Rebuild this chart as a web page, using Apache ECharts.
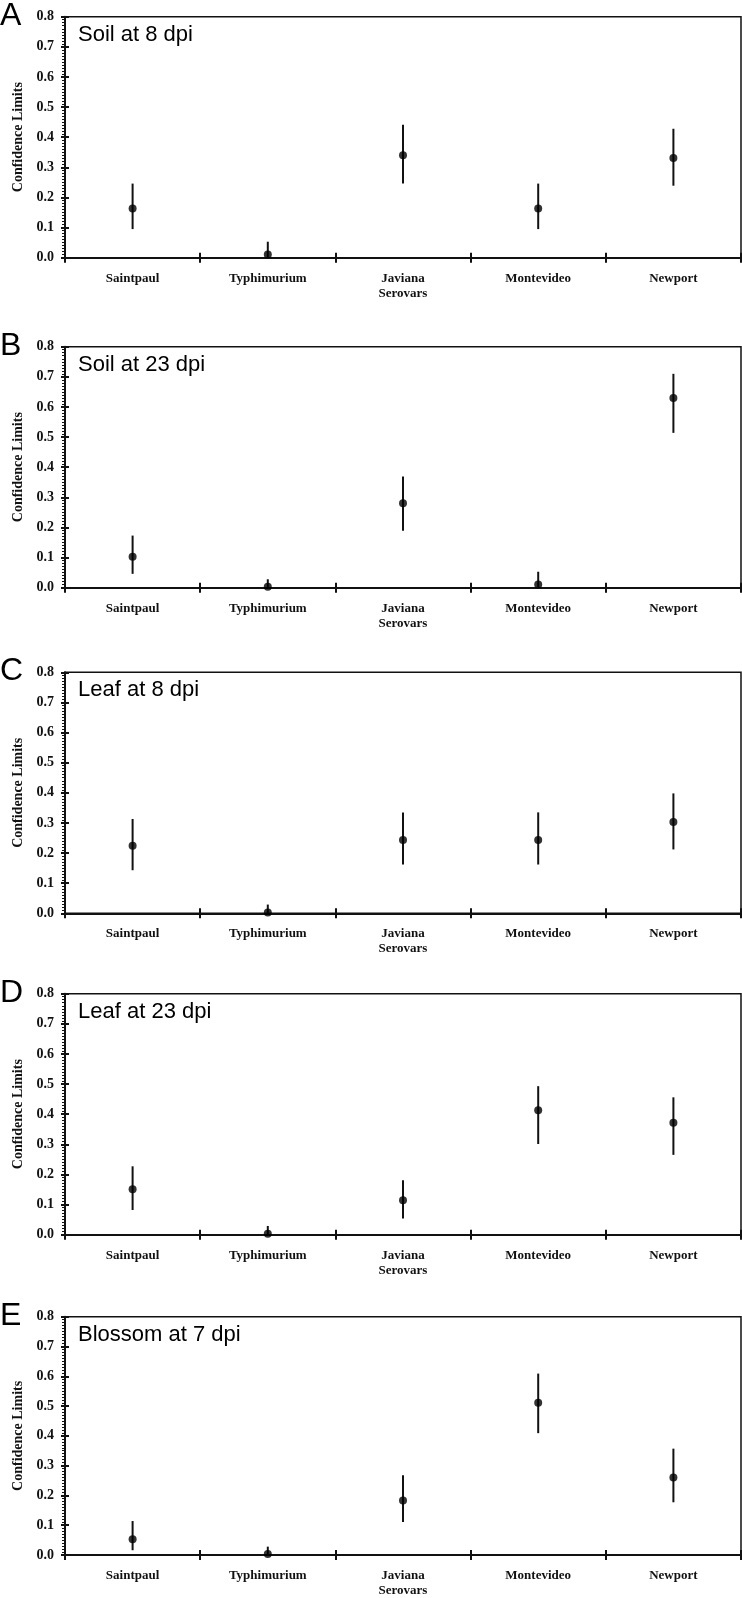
<!DOCTYPE html>
<html>
<head>
<meta charset="utf-8">
<style>
html,body{margin:0;padding:0;background:#fff;}
#chart{width:742px;height:1598px;}
</style>
<script src="https://cdn.jsdelivr.net/npm/echarts@6.0.0/dist/echarts.min.js"></script>
</head>
<body>
<div id="chart"></div>
<script>
// ---- data ----
const categories = ['Saintpaul', 'Typhimurium', 'Javiana', 'Montevideo', 'Newport'];
const yTickLabels = ['0.0', '0.1', '0.2', '0.3', '0.4', '0.5', '0.6', '0.7', '0.8'];
const xAxisTitle = 'Serovars';
const yAxisTitle = 'Confidence Limits';
const panelLetters = ['A', 'B', 'C', 'D', 'E'];
const panelTitles = ['Soil at 8 dpi', 'Soil at 23 dpi', 'Leaf at 8 dpi', 'Leaf at 23 dpi', 'Blossom at 7 dpi'];

const soil8Mean = [0.163, 0.011, 0.340, 0.163, 0.331];
const soil8Low  = [0.095, 0.000, 0.246, 0.095, 0.239];
const soil8High = [0.246, 0.053, 0.441, 0.246, 0.428];

const soil23Mean = [0.103, 0.003, 0.280, 0.011, 0.630];
const soil23Low  = [0.046, 0.000, 0.189, 0.000, 0.514];
const soil23High = [0.173, 0.028, 0.369, 0.053, 0.710];

const leaf8Mean = [0.224, 0.003, 0.243, 0.243, 0.303];
const leaf8Low  = [0.143, 0.000, 0.162, 0.162, 0.212];
const leaf8High = [0.313, 0.029, 0.335, 0.335, 0.398];

const leaf23Mean = [0.151, 0.003, 0.114, 0.413, 0.372];
const leaf23Low  = [0.082, 0.000, 0.054, 0.301, 0.265];
const leaf23High = [0.227, 0.029, 0.181, 0.493, 0.456];

const blossom7Mean = [0.053, 0.003, 0.183, 0.511, 0.260];
const blossom7Low  = [0.016, 0.000, 0.111, 0.409, 0.177];
const blossom7High = [0.114, 0.028, 0.268, 0.609, 0.357];

const panelMeans = [soil8Mean, soil23Mean, leaf8Mean, leaf23Mean, blossom7Mean];
const panelLows  = [soil8Low, soil23Low, leaf8Low, leaf23Low, blossom7Low];
const panelHighs = [soil8High, soil23High, leaf8High, leaf23High, blossom7High];

// ---- layout ----
const gridTops = [16.7, 346.7, 672.3, 993.7, 1316.7];
const gridLeft = 65, gridWidth = 676, gridHeight = 241;
const ink = '#111';
const serif = '"Liberation Serif", "Times New Roman", serif';
const sans = '"Liberation Sans", Arial, sans-serif';

const option = {
  animation: false,
  backgroundColor: '#fff',
  grid: [], xAxis: [], yAxis: [], series: [], graphic: []
};

panelTitles.forEach((title, i) => {
  option.grid.push({
    left: gridLeft, width: gridWidth, top: gridTops[i], height: gridHeight,
    show: true, borderColor: ink, borderWidth: 1.5, backgroundColor: 'transparent'
  });
  const labelStyle = { color: ink, fontFamily: serif, fontWeight: 'bold', fontSize: 13 };
  option.xAxis.push({
    type: 'category', gridIndex: i, data: categories, position: 'bottom',
    axisLine: { show: true, lineStyle: { color: ink, width: 2 } },
    axisTick: { show: true, length: 5, lineStyle: { color: ink, width: 2 } },
    axisLabel: Object.assign({ margin: 14, interval: 0 }, labelStyle),
    splitLine: { show: false },
    name: xAxisTitle, nameLocation: 'middle', nameGap: 29,
    nameTextStyle: labelStyle
  });
  option.xAxis.push({
    type: 'category', gridIndex: i, data: categories, position: 'bottom',
    axisLine: { show: false },
    axisTick: { show: true, inside: true, length: 5, lineStyle: { color: ink, width: 2 } },
    axisLabel: { show: false }, splitLine: { show: false }
  });
  option.yAxis.push({
    type: 'value', gridIndex: i, min: 0, max: 0.8, interval: 0.1, position: 'left',
    axisLine: { show: true, lineStyle: { color: ink, width: 2 } },
    axisTick: { show: true, length: 4, lineStyle: { color: ink, width: 2 } },
    minorTick: { show: true, splitNumber: 10, length: 3, lineStyle: { color: ink, width: 1 } },
    splitLine: { show: false }, minorSplitLine: { show: false },
    axisLabel: Object.assign({ margin: 11, formatter: (v) => yTickLabels[Math.round(v * 10)] }, labelStyle, { fontSize: 14 }),
    name: yAxisTitle, nameLocation: 'middle', nameGap: 35, nameRotate: 90,
    nameTextStyle: Object.assign({}, labelStyle, { fontSize: 14 })
  });
  option.yAxis.push({
    type: 'value', gridIndex: i, min: 0, max: 0.8, interval: 0.1, position: 'left',
    axisLine: { show: false },
    axisTick: { show: true, inside: true, length: 4, lineStyle: { color: ink, width: 2 } },
    splitLine: { show: false }, axisLabel: { show: false }
  });

  const xi = i * 2, yi = i * 2;
  option.series.push({
    type: 'custom', xAxisIndex: xi, yAxisIndex: yi,
    data: categories.map((c, j) => [j, panelLows[i][j], panelHighs[i][j]]),
    renderItem: (params, api) => {
      const lo = api.coord([api.value(0), api.value(1)]);
      const hi = api.coord([api.value(0), api.value(2)]);
      return { type: 'line', shape: { x1: lo[0], y1: lo[1], x2: hi[0], y2: hi[1] },
               style: { stroke: ink, lineWidth: 2 } };
    },
    z: 2
  });
  option.series.push({
    type: 'scatter', xAxisIndex: xi, yAxisIndex: yi,
    data: panelMeans[i], symbol: 'circle', symbolSize: 8,
    itemStyle: { color: '#000' }, z: 3
  });

  option.graphic.push({
    type: 'text', left: 0, top: gridTops[i] - 17,
    style: { text: panelLetters[i], font: '32px ' + sans, fill: '#000' }
  });
  option.graphic.push({
    type: 'text', left: 78, top: gridTops[i] + 7,
    style: { text: title, font: '22px ' + sans, fill: '#000' }
  });
});

const chart = echarts.init(document.getElementById('chart'), null, { renderer: 'canvas' });
chart.setOption(option);
</script>
</body>
</html>
